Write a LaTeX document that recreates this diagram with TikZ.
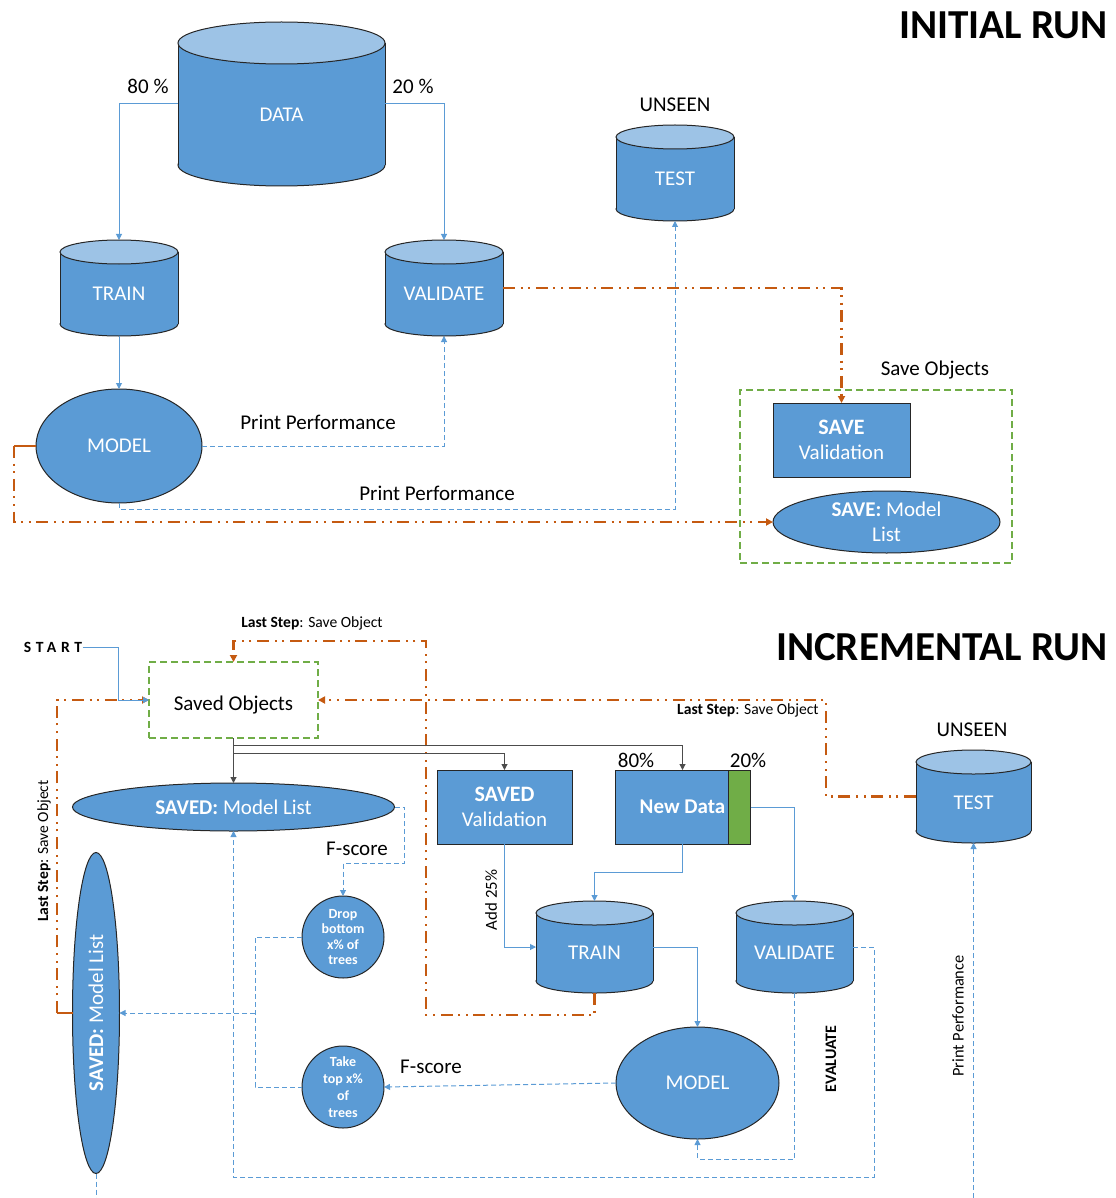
\documentclass[tikz,border=0pt]{standalone}
\usepackage{fontspec}
\setmainfont{Carlito}
\usetikzlibrary{arrows.meta,shapes.geometric,calc}

\definecolor{fblue}{HTML}{5B9BD5}
\definecolor{ftop}{HTML}{9DC3E6}
\definecolor{cblue}{HTML}{5B9BD5}
\definecolor{orng}{HTML}{C55A11}
\definecolor{grn}{HTML}{70AD47}
\definecolor{edge}{HTML}{262626}

\newcommand{\nfont}{\fontsize{10.5}{12.6}\selectfont}
\newcommand{\sfont}{\fontsize{7.8}{9}\selectfont}
\newcommand{\tfont}{\fontsize{20.6}{25}\selectfont\bfseries}

% database cylinder: name, cx, cy, half width, half height, cap radius, text
\newcommand{\dbcyl}[7]{%
  \fill[fblue, draw=edge, line width=0.5pt] (#2,#3+#5-#6) ellipse [x radius=#4, y radius=#6];
  \fill[fblue] (#2-#4,#3-#5+#6) rectangle (#2+#4,#3+#5-#6);
  \draw[edge, line width=0.5pt] (#2-#4,#3-#5+#6) -- (#2-#4,#3+#5-#6)
                                (#2+#4,#3-#5+#6) -- (#2+#4,#3+#5-#6);
  \fill[ftop, draw=edge, line width=0.5pt] (#2,#3-#5+#6) ellipse [x radius=#4, y radius=#6];
  \node[cyltext, minimum width=2*#4*0.5pt, minimum height=2*#5*0.5pt,
        text height=6.8pt+#6*0.5pt] (#1) at (#2,#3) {#7};
}

\tikzset{
  cyltext/.style={inner sep=0pt, outer sep=0pt, text=white, font=\nfont, text depth=0pt},
  bluebox/.style={draw=edge, line width=0.5pt, fill=fblue, text=white, font=\nfont,
                  inner sep=0pt, outer sep=0pt, align=center},
  blueoval/.style={bluebox, ellipse},
  bluedisc/.style={bluebox, circle},
  savezone/.style={draw=grn, line width=1pt, dash pattern=on 3.5pt off 2pt,
                   inner sep=0pt, outer sep=0pt, font=\nfont},
  lbl/.style={font=\nfont, inner sep=0pt},
  slbl/.style={font=\sfont, inner sep=0pt},
  tip/.style={-{Triangle[length=3pt,width=3pt]}},
  conn/.style={draw=cblue, line width=0.5pt, tip},
  dline/.style={draw=cblue, line width=0.5pt, dash pattern=on 2.5pt off 1.5pt},
  dconn/.style={dline, tip},
  ostub/.style={draw=orng, line width=1.1pt},
  oconn/.style={ostub, dash pattern=on 6pt off 2.8pt on 1pt off 2.8pt on 1pt off 2.8pt,
                -{Triangle[length=3.5pt,width=3.5pt]}},
  blk/.style={draw=black!70, line width=0.5pt, tip},
}

\begin{document}
\begin{tikzpicture}[x=0.5pt, y=-0.5pt]
\useasboundingbox (0,0) rectangle (1115,1198);

% ---------------- initial run ----------------
\node[anchor=east, font=\tfont, inner sep=0pt] (title1) at (1108,25) {INITIAL RUN};

\dbcyl{data}{281.5}{104}{103.5}{82}{21}{DATA}
\dbcyl{train}{119}{288}{59}{48}{12}{TRAIN}
\dbcyl{valid}{444}{288}{59}{48}{12}{VALIDATE}
\dbcyl{test}{675}{173}{59}{48}{12}{TEST}
\node[lbl] (unseen1) at (675,105) {UNSEEN};

\node[blueoval, minimum width=166*0.5pt, minimum height=114*0.5pt] (model) at (119,446) {MODEL};

\node[savezone, minimum width=272*0.5pt, minimum height=173*0.5pt] (savebox) at (876,476.5) {};
\node[lbl] (savelbl) at (935,370) {Save Objects};
\node[bluebox, minimum width=137*0.5pt, minimum height=74*0.5pt] (savev) at (841.5,440)
  {{\bfseries\fontsize{11}{12.5}\selectfont SAVE}\\Validation};
\node[blueoval, minimum width=227*0.5pt, minimum height=62*0.5pt, inner ysep=-3pt] (saveml) at (886.5,522)
  {\textbf{SAVE:} Model\\List};

\node[lbl] (p80) at (148,86) {80 \%};
\node[lbl] (p20) at (413,86) {20 \%};
\draw[conn] (data.west) -| (train.north);
\draw[conn] (data.east) -| (valid.north);
\draw[conn] (train.south) -- (model.north);
\draw[dconn] (model.east) -| (valid.south);
\draw[dconn] (model.south) -- ++(0,6) -| (test.south);
\node[lbl] (pp1) at (318,422) {Print Performance};
\node[lbl] (pp2) at (437,493) {Print Performance};

\draw[oconn] (valid.east) -| (savev.north);
\coordinate (mw) at (14,446);
\draw[ostub] (model.west) -- (mw);
\draw[oconn] (mw) |- (saveml.west);

% ---------------- incremental run ----------------
\node[anchor=east, font=\tfont, inner sep=0pt] (title2) at (1108,647) {INCREMENTAL RUN};

\node[slbl, font=\sfont\bfseries\addfontfeatures{LetterSpace=30}] (start) at (53,647) {START};
\node[savezone, minimum width=169*0.5pt, minimum height=76*0.5pt, text height=10pt, text depth=0pt]
  (savedobj) at (233.5,700) {Saved Objects};

\node[blueoval, minimum width=322*0.5pt, minimum height=48*0.5pt] (savedml) at (233.5,807)
  {\textbf{SAVED:} Model List};
\node[bluebox, minimum width=135*0.5pt, minimum height=74*0.5pt] (savedv) at (504.5,807)
  {{\bfseries\fontsize{11}{12}\selectfont SAVED}\\Validation};
\node[bluebox, minimum width=135*0.5pt, minimum height=74*0.5pt] (newdata) at (682.5,807)
  {\textbf{New Data}};
\node[draw=edge, line width=0.5pt, fill=grn, inner sep=0pt,
      minimum width=22*0.5pt, minimum height=74*0.5pt] (nv) at (739,807) {};
\node[lbl] (q80) at (636,760) {80\%};
\node[lbl] (q20) at (748,760) {20\%};

\dbcyl{testB}{973.5}{796.5}{57.5}{46.5}{12}{TEST}
\node[lbl] (unseen2) at (972,730) {UNSEEN};
\dbcyl{trainB}{594.5}{947}{58.5}{46}{12}{TRAIN}
\dbcyl{validB}{794.5}{947}{58.5}{46}{12}{VALIDATE}
\node[blueoval, minimum width=163*0.5pt, minimum height=112*0.5pt] (modelB) at (697.5,1083) {MODEL};

\node[bluedisc, minimum size=82*0.5pt, font=\fontsize{7}{7.75}\selectfont\bfseries] (drop) at (343,937)
  {Drop\\bottom\\x\% of\\trees};
\node[bluedisc, minimum size=82*0.5pt, font=\fontsize{7}{8.5}\selectfont\bfseries] (take) at (343,1087)
  {Take\\top x\%\\of\\trees};
\node[blueoval, minimum width=47*0.5pt, minimum height=321*0.5pt] (vml) at (96,1013)
  {\rotatebox{90}{\textbf{SAVED:} Model List}};

% start and the save-object loops
\coordinate (sj) at (118,700);
\coordinate (lw) at (57,1013);
\draw[ostub] (vml.west) -- (lw);
\draw[oconn] (lw) |- (savedobj.west);
\draw[conn] (start.east) -| (sj) -- (savedobj.west);

\coordinate (tlA) at (426,1015);
\coordinate (tlB) at (426,641);
\draw[oconn] (trainB.south) |- (tlA) -- (tlB) -| (savedobj.north);
\node[slbl] (ls1) at (312,623) {\textbf{Last Step}: Save Object};

\coordinate (trA) at (826,700);
\draw[oconn] (testB.west) -| (trA) -- (savedobj.east);
\node[slbl, anchor=east] (ls2) at (819,710) {\textbf{Last Step}: Save Object};

\node[slbl, rotate=90] (ls3) at (44,851) {\textbf{Last Step}: Save Object};

% saved objects fan out
\coordinate (bk1) at (233.5,745);
\coordinate (bk2) at (233.5,753);
\draw[blk] (savedobj.south) -- (savedml.north);
\draw[blk] (bk1) -| (newdata.north);
\draw[blk] (bk2) -| (savedv.north);

% training flow
\draw[conn] (savedv.south) |- (trainB.west);
\node[slbl, rotate=90, font=\fontsize{8.4}{10}\selectfont] (add) at (491,900) {Add 25\%};
\draw[conn] (newdata.south) -- ++(0,28) -| (trainB.north);
\draw[conn] (nv.east) -| (validB.north);
\draw[conn] (trainB.east) -| (modelB.north);
\draw[dconn] (validB.south) -- ++(0,166) -| (modelB.south);
\node[slbl, rotate=90, font=\fontsize{8}{10}\selectfont\bfseries] (evl) at (831,1059) {EVALUATE};
\draw[dconn] (validB.east) -| ++(21,230) -| (savedml.south);

% pruning branch
\draw[dconn] (savedml.east) -| ++(10,56) -| (drop.north);
\node[lbl] (fs1) at (357,849) {F-score};
\draw[dconn] (modelB.west) -- (take.east);
\node[lbl] (fs2) at (431,1067) {F-score};
\coordinate (jt) at (255,1087);
\coordinate (jn) at (255,1013);
\draw[dline] (drop.west) -| (jt) -- (take.west);
\draw[dconn] (jn) -- (vml.east);

% unseen test check
\coordinate (tb) at (973.5,1198);
\draw[dconn] (tb) -- (testB.south);
\node[slbl, rotate=90, font=\fontsize{8.2}{10}\selectfont] (pp3) at (958,1016) {Print Performance};
\coordinate (vb) at (96,1198);
\draw[dline] (vml.south) -- (vb);
\end{tikzpicture}
\end{document}
